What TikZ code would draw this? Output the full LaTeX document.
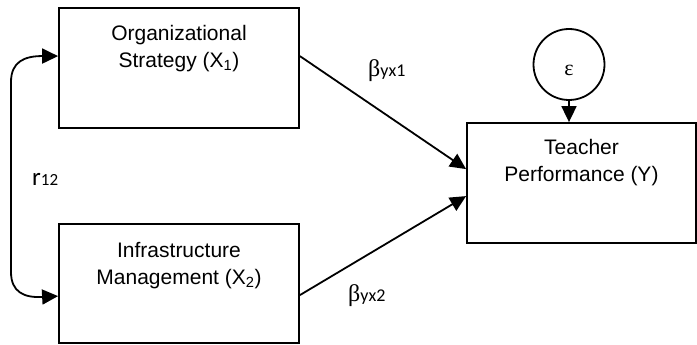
\documentclass[tikz,border=0pt]{standalone}
\usepackage{fontspec}
\setmainfont{Liberation Sans}
\newfontfamily\greekf{Liberation Serif}
\newfontfamily\calib{Carlito}
\usetikzlibrary{arrows.meta,calc}
\begin{document}
\begin{tikzpicture}[x=1pt,y=-1pt,
  box/.style={draw, line width=1.8pt, inner sep=0pt},
  boxtext/.style={align=center, inner sep=0pt, anchor=north, font=\fontsize{21}{27}\selectfont},
  lbl/.style={inner sep=0pt, anchor=base west},
  conn/.style={line width=1.8pt, -{Triangle[length=16pt,width=15pt]}},
  biconn/.style={line width=1.8pt, {Triangle[length=16pt,width=15pt]}-{Triangle[length=16pt,width=15pt]}}
]
\useasboundingbox (0,0) rectangle (697,345);
% boxes
\node[box, minimum width=240pt, minimum height=120pt] (b1) at (179,68) {};
\node[box, minimum width=240pt, minimum height=119pt] (b2) at (179,283.5) {};
\node[box, minimum width=229pt, minimum height=120pt] (by) at (581.5,183) {};
\node[draw, circle, line width=1.8pt, minimum size=71pt, inner sep=0pt] (eps) at (569,64.5) {};
% texts
\node[boxtext] (t1) at (179,25) {Organizational\\Strategy (X\textsubscript{1})};
\node[boxtext] (t2) at (179,242) {Infrastructure\\Management (X\textsubscript{2})};
\node[boxtext] (ty) at (581.5,139) {Teacher\\Performance (Y)};
\node[inner sep=0pt, font=\greekf\fontsize{22}{22}\selectfont] (te) at (569,70) {ε};
\node[lbl] (lb1) at (368,77) {{\greekf\fontsize{24}{24}\selectfont β}{\calib\fontsize{18}{18}\selectfont yx1}};
\node[lbl] (lb2) at (348,301) {{\greekf\fontsize{24}{24}\selectfont β}{\calib\fontsize{18}{18}\selectfont yx2}};
\node[lbl] (lr) at (32,185) {{\calib\fontsize{25}{25}\selectfont r}{\calib\fontsize{17}{17}\selectfont 12}};
% connector coordinates
\coordinate (b1a) at ($(b1.north east)+(0,49)$);
\coordinate (b2a) at ($(b2.north east)+(0,72)$);
\coordinate (ya) at ($(by.north west)+(0,47)$);
\coordinate (yb) at ($(by.north west)+(0,74)$);
\coordinate (b1l) at ($(b1.north west)+(0,49)$);
\coordinate (b2l) at ($(b2.north west)+(0,73)$);
\draw[conn] (b1a) -- (ya);
\draw[conn] (b2a) -- (yb);
\draw[conn] (eps.south) -- (eps.south |- by.north);
\draw[biconn] (b1l) .. controls (24,56) and (11,62) .. (11,82) -- (11,272) .. controls (11,292) and (24,298) .. (b2l);
\end{tikzpicture}
\end{document}
